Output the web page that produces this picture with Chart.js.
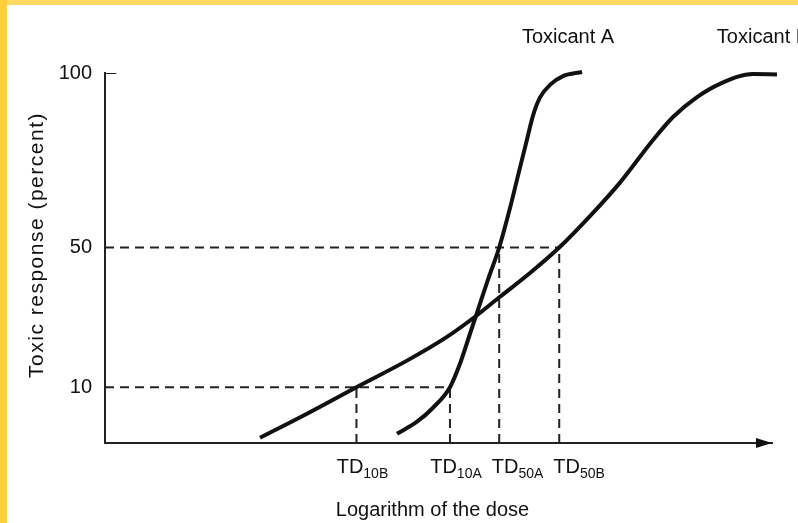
<!DOCTYPE html>
<html>
<head>
<meta charset="utf-8">
<script src="https://cdn.jsdelivr.net/npm/chart.js@4/dist/chart.umd.min.js"></script>
<style>
  html, body { margin: 0; padding: 0; background: #fff; }
  #wrap { position: relative; width: 798px; height: 523px; overflow: hidden; background: #fff; }
  #wrap canvas { position: absolute; left: 0; top: 0; }
  #frameTop { position: absolute; left: 0; top: 0; width: 798px; height: 5px; background: #ffd862; }
  #frameLeft { position: absolute; left: 0; top: 0; width: 7px; height: 523px; background: #ffcf3c; }
</style>
</head>
<body>
<div id="wrap">
  <canvas id="chart" width="798" height="523"></canvas>
  <div id="frameTop"></div>
  <div id="frameLeft"></div>
</div>
<script>
// Log dose (arbitrary units) and toxic response (%) for the two toxicants
const seriesNames = ['Toxicant A', 'Toxicant B'];

const doseA =     [4.378, 4.678, 4.918, 5.172, 5.322, 5.472, 5.577, 5.742, 5.91, 6.072, 6.192, 6.312, 6.417, 6.522, 6.672, 6.867, 7.152];
const responseA = [-3.35, 0.1,   4.1,   10,    16.7,  25.3,  31.3,  40.8,  50,   61.3,  70.6,  79.8,  87.8,  93.0,  96.6,  99.1,  100.3];

const doseB =     [2.324, 3.028, 3.77, 4.528, 5.127, 5.577, 5.922, 6.372, 6.81, 7.271, 7.721, 8.216, 8.516, 8.876, 9.22, 9.715, 10.075];
const responseB = [-4.5,  2.4,   10,   17.6,  24.4,  30.6,  35.9,  42.7,  50,   59.0,  68.6,  80.8,  87.4,  93.1,  96.9, 99.7,  99.6];

// Toxic doses: TD10 and TD50 for each toxicant
const tdNames  = ['10B', '10A', '50A', '50B'];
const tdDoses  = [3.77, 5.172, 5.91, 6.81];
const tdLevels = [10, 10, 50, 50];

// Response axis
const yTicks = [10, 50, 100];
const yMin = -6;
const yMax = 100;
const doseMax = 10;

const ink = '#111111';
const fontFamily = '"Liberation Sans", Arial, Helvetica, sans-serif';

const pts = (xs, ys) => xs.map((x, i) => ({ x, y: ys[i] }));

const curveStyle = {
  borderColor: ink,
  borderWidth: 4,
  pointRadius: 0,
  cubicInterpolationMode: 'monotone',
  fill: false,
  clip: false
};
const dashStyle = {
  borderColor: '#222',
  borderWidth: 2,
  borderDash: [9, 6],
  pointRadius: 0,
  fill: false,
  tension: 0
};

const datasets = [
  { label: seriesNames[0], data: pts(doseA, responseA), ...curveStyle },
  { label: seriesNames[1], data: pts(doseB, responseB), ...curveStyle }
];

// Horizontal reference lines from the response axis to the furthest TD at each level
[...new Set(tdLevels)].forEach(level => {
  const reach = Math.max(...tdDoses.filter((d, i) => tdLevels[i] === level));
  datasets.push({ label: 'level ' + level, data: [{ x: 0, y: level }, { x: reach, y: level }], ...dashStyle });
});
// Vertical drop lines from each TD point down to the dose axis
tdDoses.forEach((d, i) => {
  datasets.push({ label: 'TD' + tdNames[i], data: [{ x: d, y: yMin }, { x: d, y: tdLevels[i] }], ...dashStyle });
});
// Short inward mark at the top of the response axis
datasets.push({
  label: 'top mark',
  data: [{ x: 0, y: yMax }, { x: 0.17, y: yMax }],
  borderColor: '#222', borderWidth: 2, pointRadius: 0, fill: false
});

const annotate = {
  id: 'annotate',
  afterDraw(chart) {
    const { ctx, chartArea: a, scales: { x, y } } = chart;
    const base = y.getPixelForValue(yMin);
    ctx.save();
    ctx.fillStyle = ink;

    // Arrowhead on the dose axis
    ctx.beginPath();
    ctx.moveTo(a.right, base);
    ctx.lineTo(a.right - 16, base - 5);
    ctx.lineTo(a.right - 16, base + 5);
    ctx.closePath();
    ctx.fill();

    // TD labels with subscripts
    ctx.textAlign = 'left';
    ctx.textBaseline = 'alphabetic';
    let prevRight = -Infinity;
    tdDoses.forEach((d, i) => {
      ctx.font = '20px ' + fontFamily;
      const w1 = ctx.measureText('TD').width;
      ctx.font = '14px ' + fontFamily;
      const w2 = ctx.measureText(tdNames[i]).width;
      const w = w1 + w2;
      let left = x.getPixelForValue(d) + 6 - w / 2;
      if (left < prevRight + 10) left = prevRight + 10;
      ctx.font = '20px ' + fontFamily;
      ctx.fillText('TD', left, base + 30);
      ctx.font = '14px ' + fontFamily;
      ctx.fillText(tdNames[i], left + w1, base + 35);
      prevRight = left + w;
    });

    // Curve names above the plateau ends
    ctx.font = '20px ' + fontFamily;
    ctx.textAlign = 'center';
    const ends = [doseA[doseA.length - 1], doseB[doseB.length - 1]];
    seriesNames.forEach((name, i) => {
      ctx.fillText(name, x.getPixelForValue(ends[i]) - 14, 43);
    });

    // Dose axis title
    ctx.fillText('Logarithm of the dose', (a.left + a.right) / 2 - 6, base + 73);

    // Response axis title
    ctx.save();
    ctx.translate(37, 245);
    ctx.rotate(-Math.PI / 2);
    ctx.font = '21px ' + fontFamily;
    ctx.letterSpacing = '1.5px';
    ctx.textBaseline = 'middle';
    ctx.fillText('Toxic response (percent)', 0, 0);
    ctx.restore();

    ctx.restore();
  }
};

new Chart(document.getElementById('chart'), {
  type: 'line',
  data: { datasets },
  options: {
    responsive: false,
    animation: false,
    events: [],
    layout: { padding: { left: 0, right: 26, top: 73, bottom: 0 } },
    plugins: { legend: { display: false }, tooltip: { enabled: false } },
    scales: {
      x: {
        type: 'linear',
        min: 0,
        max: doseMax,
        grid: { display: false, drawTicks: false },
        border: { display: true, color: '#222', width: 2 },
        ticks: { display: false },
        afterFit(scale) { scale.height = 80; }
      },
      y: {
        type: 'linear',
        min: yMin,
        max: yMax,
        grid: { display: false, drawTicks: false },
        border: { display: true, color: '#222', width: 2 },
        afterBuildTicks(scale) { scale.ticks = yTicks.map(v => ({ value: v })); },
        ticks: {
          color: ink,
          padding: 13,
          font: { family: fontFamily, size: 20 },
          callback: v => String(v)
        },
        afterFit(scale) { scale.width = 105; }
      }
    }
  },
  plugins: [annotate]
});
</script>
</body>
</html>
